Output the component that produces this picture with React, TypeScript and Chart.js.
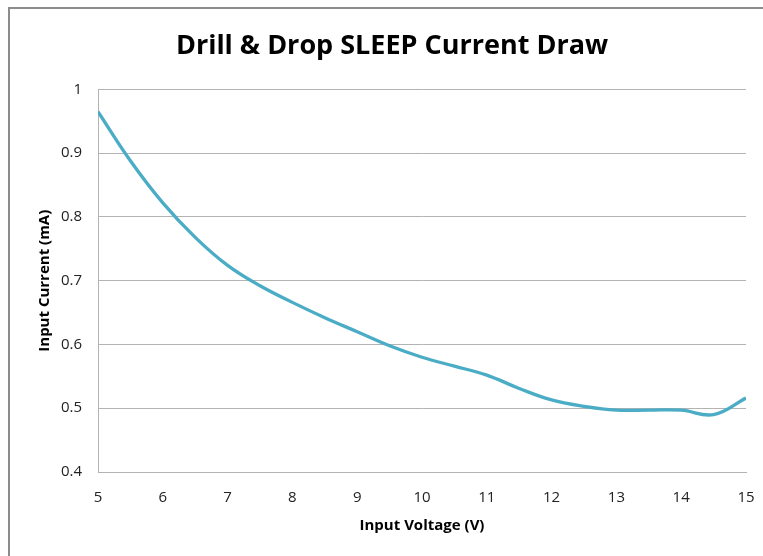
import React, { useEffect, useRef } from "react";
import { Chart, registerables } from "chart.js";

Chart.register(...registerables);

const voltages = [5, 5.5, 6, 6.5, 7, 7.5, 8, 8.5, 9, 9.5, 10, 10.5, 11, 11.5, 12, 12.5, 13, 13.5, 14, 14.5, 15];
const currents = [0.965, 0.888, 0.822, 0.768, 0.724, 0.692, 0.666, 0.642, 0.62, 0.598, 0.58, 0.566, 0.552, 0.531, 0.513, 0.503, 0.497, 0.497, 0.497, 0.49, 0.516];

const titleText = "Drill & Drop SLEEP Current Draw";
const xTitle = "Input Voltage (V)";
const yTitle = "Input Current (mA)";

const titleShift = {
  id: "titleShift",
  afterLayout(chart: any) {
    const tb = chart.titleBlock;
    if (tb) {
      tb.left += 14;
      tb.right += 14;
    }
  },
};

export default function App() {
  const ref = useRef<HTMLCanvasElement | null>(null);

  useEffect(() => {
    document.documentElement.style.overflow = "hidden";
    document.body.style.overflow = "hidden";
    if (!ref.current) return;
    const gridColor = "#b3b3b3";
    const chart = new Chart(ref.current, {
      type: "line",
      data: {
        datasets: [
          {
            data: voltages.map((v, i) => ({ x: v, y: currents[i] })),
            borderColor: "#4BACC6",
            borderWidth: 3.3,
            pointRadius: 0,
            tension: 0.4,
            fill: false,
          },
        ],
      },
      plugins: [titleShift],
      options: {
        animation: false,
        responsive: false,
        devicePixelRatio: 1,
        layout: { padding: { left: 0, right: 17, top: 0, bottom: 0 } },
        plugins: {
          legend: { display: false },
          tooltip: { enabled: false },
          title: {
            display: true,
            text: titleText,
            color: "#000",
            font: { family: "'Open Sans'", size: 27, weight: "bold", lineHeight: 1.2 },
            padding: { top: 21, bottom: 27 },
          },
        },
        scales: {
          x: {
            type: "linear",
            min: 5,
            max: 15,
            ticks: {
              stepSize: 1,
              padding: 17,
              color: "#222",
              font: { family: "'Open Sans'", size: 15 },
            },
            grid: { drawOnChartArea: false, drawTicks: false },
            border: { color: gridColor, width: 1 },
            title: {
              display: true,
              text: xTitle,
              color: "#000",
              font: { family: "'Open Sans'", size: 15, weight: "bold", lineHeight: 1.2 },
              padding: { top: 0, bottom: 21 },
            },
            afterFit: (scale: any) => {
              scale.height = 84;
              scale.paddingLeft = 0;
              scale.paddingRight = 0;
            },
          },
          y: {
            type: "linear",
            min: 0.4,
            max: 1,
            ticks: {
              stepSize: 0.1,
              padding: 16,
              color: "#222",
              font: { family: "'Open Sans'", size: 15 },
              callback: (value: any) => String(Number(Number(value).toFixed(1))),
            },
            grid: { color: gridColor, lineWidth: 1, drawTicks: false },
            border: { color: gridColor, width: 1 },
            title: {
              display: true,
              text: yTitle,
              color: "#000",
              font: { family: "'Open Sans'", size: 15, weight: "bold", lineHeight: 1.2 },
              padding: { top: 26, bottom: 0 },
            },
            afterFit: (scale: any) => {
              scale.width = 88;
              scale.paddingTop = 0;
              scale.paddingBottom = 0;
            },
          },
        },
      },
    });
    return () => chart.destroy();
  }, []);

  return (
    <div
      style={{
        position: "fixed",
        left: 8,
        top: 7,
        width: 820,
        height: 620,
        boxSizing: "border-box",
        borderLeft: "2px solid #8c8c8c",
        borderTop: "2px solid #8c8c8c",
        background: "#fff",
      }}
    >
      <canvas ref={ref} width={753} height={547} style={{ display: "block" }} />
    </div>
  );
}
